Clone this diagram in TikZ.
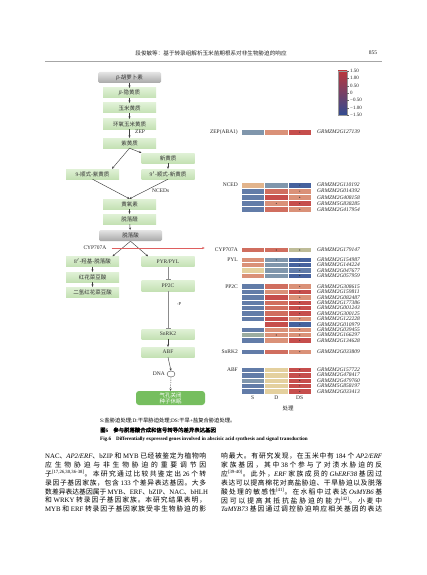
\documentclass[tikz,border=0pt]{standalone}
\usepackage{fontspec}
\setmainfont{Liberation Serif}
\newfontfamily\cjk{Noto Sans CJK SC}
\newfontfamily\cjkbf[FakeBold=1.5]{Noto Sans CJK SC}
\usetikzlibrary{arrows.meta,shapes.geometric}
\def\zsend{\zsend}
\def\zsloop#1{#1\zsnext}
\def\zsnext#1{\ifx#1\zsend\else\hskip 0pt plus 1fil\relax#1\expandafter\zsnext\fi}
\newcommand\zh[1]{{\cjk\zsloop#1\zsend}}
\newcommand\flowfont{\cjk\fontsize{5.5}{6}\selectfont}
\newcommand\labfont{\fontsize{5.5}{6}\selectfont}
\newcommand\bodyfont{\fontsize{6.8}{8}\selectfont}
\newcommand\jl[1]{\hbox to 161pt{\bodyfont #1}}
\definecolor{R1}{RGB}{198,78,76}
\definecolor{R2}{RGB}{208,110,95}
\definecolor{R3}{RGB}{218,145,120}
\definecolor{R4}{RGB}{226,180,140}
\definecolor{Y}{RGB}{228,208,158}
\definecolor{G1}{RGB}{128,150,172}
\definecolor{B1}{RGB}{98,124,168}
\definecolor{B2}{RGB}{70,98,158}
\definecolor{O}{RGB}{190,188,152}
\definecolor{GG}{RGB}{155,172,160}
\definecolor{gtop}{RGB}{224,241,214}
\definecolor{gbot}{RGB}{196,225,180}
\definecolor{ytop}{RGB}{228,228,228}
\definecolor{ybot}{RGB}{168,168,168}
\definecolor{stomc}{RGB}{118,190,95}
\definecolor{cbR}{RGB}{185,55,60}
\definecolor{cbY}{RGB}{236,226,178}
\definecolor{cbB}{RGB}{50,75,145}
\definecolor{redl}{RGB}{222,95,95}
\tikzset{
  gbox/.style={top color=gtop, bottom color=gbot, minimum width=53pt, minimum height=10pt, inner sep=0pt, font=\flowfont, text=black!80},
  graybox/.style={rounded corners=1.5pt, top color=ytop, bottom color=ybot, minimum width=63pt, minimum height=11pt, inner sep=0pt, font=\flowfont, text=black!80},
  stombox/.style={rounded corners=3pt, fill=stomc, minimum width=69pt, minimum height=14pt, inner sep=0pt, font=\flowfont, text=white, align=center},
  arr/.style={-{Stealth[length=2.4pt,width=2.2pt]}, line width=0.45pt, draw=black!75},
  inh/.style={-{Bar[width=5pt,line width=0.6pt]}, line width=0.5pt, draw=black!45},
  redarr/.style={-{Stealth[length=2.6pt,width=2.2pt]}, line width=0.45pt, draw=redl},
  lab/.style={font=\labfont, inner sep=0pt, text=black!85},
  gl/.style={font=\itshape\fontsize{5.5}{6}\selectfont, anchor=west, inner sep=0pt, text=black!85},
  grp/.style={font=\labfont, anchor=east, inner sep=0pt, text=black!85},
  cell/.style={draw=white, line width=0.45pt},
  bl/.style={anchor=west, inner sep=0pt},
}
\begin{document}
\begin{tikzpicture}[x=1pt,y=-1pt]
\useasboundingbox (0,0) rectangle (427,575);
\fill[white] (0,0) rectangle (427,575);
% header
\node[lab] (hdr) at (211,53) {\cjk\fontsize{5.6}{6}\selectfont 段俊敏等：基于转录组解析玉米苗期根系对非生物胁迫的响应};
\node[lab] (pg) at (373,53) {\fontsize{5.6}{6}\selectfont 855};
\draw[black!35, line width=0.8pt] (45,61) -- (382,61);
% flow chart
\node[graybox] (carot) at (129.5,77.5) {{\rmfamily\textit{β}-}胡萝卜素};
\node[gbox] (crypto) at (129.5,93) {{\rmfamily\textit{β}-}隐黄质};
\node[gbox] (zea) at (129.5,108) {玉米黄质};
\node[gbox] (epoxy) at (129.5,124) {环氧玉米黄质};
\node[gbox] (viola) at (129.5,143) {紫黄质};
\node[gbox] (neo) at (168,158) {新黄质};
\node[gbox] (cviola) at (92.5,174) {{\rmfamily 9-}顺式-紫黄质};
\node[gbox] (cneo) at (168,174) {{\rmfamily 9$'$-}顺式-新黄质};
\node[gbox] (xan) at (129.5,204) {黄氧素};
\node[gbox] (ald) at (129.5,219) {脱落醛};
\node[graybox] (aba) at (130.5,235.5) {脱落酸};
\node[gbox] (hyd) at (92.5,261.5) {{\rmfamily 8$'$-}羟基-脱落酸};
\node[gbox] (pa) at (92.5,277) {红花菜豆酸};
\node[gbox] (dpa) at (92.5,292) {二氢红花菜豆酸};
\node[gbox] (pyr) at (168,261.5) {{\rmfamily PYR/PYL}};
\node[gbox, minimum height=11pt] (pp2c) at (168,285.5) {{\rmfamily PP2C}};
\node[gbox] (snrk) at (168,334) {{\rmfamily SnRK2}};
\node[gbox] (abf) at (168,352) {{\rmfamily ABF}};
\node[ellipse, draw=black!70, line width=0.4pt, minimum width=8pt, minimum height=6pt, inner sep=0pt] (dna) at (171,374) {};
\node[lab, anchor=east] (dnal) at (165,374) {DNA};
\node[stombox] (stom) at (170.5,398) {气孔关闭\\种子休眠};
\node[lab, anchor=west] (zep) at (135,132) {ZEP};
\node[lab, anchor=west] (nceds) at (152,191) {NCEDs};
\node[lab] (cypl) at (95,248) {CYP707A};
\node[lab] (dephos) at (179,304) {\fontsize{4.5}{5}\selectfont -P};
\draw[arr] (carot) -- (crypto);
\draw[arr] (crypto) -- (zea);
\draw[arr] (zea) -- (epoxy);
\draw[arr] (epoxy) -- (viola);
\draw[arr] (viola.south) -- ([xshift=19.5pt]cviola.north);
\draw[arr] (viola.south) -- (neo.north west);
\draw[arr] (neo) -- (cneo);
\draw[arr] (cviola.south) -- (xan.north);
\draw[arr] (cneo.south) -- (xan.north);
\draw[arr] (xan) -- (ald);
\draw[arr] (ald) -- (aba);
\draw[arr] (aba.south) -- ([xshift=20pt]hyd.north);
\draw[arr] (aba.south) -- ([xshift=-20pt]pyr.north);
\draw[arr] (hyd) -- (pa);
\draw[arr] (pa) -- (dpa);
\draw[inh] (pyr) -- (pp2c);
\draw[inh] (pp2c) -- (snrk);
\draw[arr] (snrk) -- (abf);
\draw[arr] (abf.south) -- (dna.north);
\draw[arr, dashed, dash pattern=on 1.2pt off 1.2pt] (dna.south) -- (stom.north);
% heatmap
\foreach \nm/\y/\h/\a/\b/\c/\sa/\sb/\sc/\g in {
 zep/129.3/5.7/G1/R3/R1/0/0/1/GRMZM2G127139,
 na/182/6.1/R4/G1/B2/0/0/1/GRMZM2G110192,
 nb/188.1/6.1/B1/R2/R3/0/0/1/GRMZM2G014392,
 nc/194.2/6.1/B1/R1/R3/0/0/1/GRMZM2G408158,
 nd/200.3/6.1/B1/R3/R1/0/1/1/GRMZM5G838285,
 ne/206.4/6.1/B1/R2/R3/0/0/1/GRMZM2G417954,
 cyp/247.3/5.4/R2/R2/O/0/1/1/GRMZM2G179147,
 pa/257.3/5.2/R3/G1/B2/0/1/1/GRMZM2G154987,
 pb/262.5/5.2/R3/G1/B2/0/0/1/GRMZM2G144224,
 pc/267.7/5.2/Y/G1/B1/0/0/1/GRMZM2G047677,
 pd/272.9/5.2/R3/G1/B2/0/0/1/GRMZM2G057959,
 qa/283.7/5.4/B1/R2/R3/0/0/1/GRMZM2G308615,
 qb/289.1/5.4/B1/R3/R1/0/0/1/GRMZM2G159811,
 qc/294.5/5.4/B1/R1/R3/0/0/1/GRMZM2G082487,
 qd/299.9/5.4/B1/R2/R1/0/0/1/GRMZM2G177386,
 qe/305.3/5.4/B1/R2/R1/0/0/1/GRMZM2G001243,
 qf/310.7/5.4/B1/R2/R1/0/0/1/GRMZM2G300125,
 qg/316.1/5.4/B1/R1/R3/0/0/1/GRMZM2G122228,
 qh/321.5/5.4/white/R1/B2/0/0/1/GRMZM2G010979,
 qi/326.9/5.4/B1/R3/R3/0/0/1/GRMZM2G039455,
 qj/332.3/5.4/GG/R3/R3/0/1/1/GRMZM2G166297,
 qk/337.7/5.4/B1/R3/R1/0/0/1/GRMZM2G134628,
 sa/349/5.4/B1/R2/R3/0/0/1/GRMZM2G033809,
 aa/367/5.4/B1/Y/R1/0/0/1/GRMZM2G157722,
 ab/372.4/5.4/B1/Y/R1/0/0/1/GRMZM2G478417,
 ac/377.8/5.4/G1/Y/R1/0/0/1/GRMZM2G479760,
 ad/383.2/5.4/B1/Y/R1/0/0/1/GRMZM5G858197,
 ae/388.6/5.4/B1/Y/R1/0/0/1/GRMZM2G033413}{
  \path[cell, fill=\a] (241,\y) rectangle (264.5,{\y+\h});
  \path[cell, fill=\b] (264.5,\y) rectangle (288,{\y+\h});
  \path[cell, fill=\c] (288,\y) rectangle (311.5,{\y+\h});
  \ifnum\sa=1 \fill[black!80] (252.75,{\y+\h/2}) circle[radius=0.55pt];\fi
  \ifnum\sb=1 \fill[black!80] (276.25,{\y+\h/2}) circle[radius=0.55pt];\fi
  \ifnum\sc=1 \fill[black!80] (299.75,{\y+\h/2}) circle[radius=0.55pt];\fi
  \node[gl] (g\nm) at (317,{\y+\h/2}) {\g};
}
\node[grp] (hzep) at (238,132.1) {ZEP(ABA1)};
\node[grp] (hnced) at (238,185) {NCED};
\node[grp] (hcyp) at (238,250) {CYP707A};
\node[grp] (hpyl) at (238,259.9) {PYL};
\node[grp] (hpp2c) at (238,286.4) {PP2C};
\node[grp] (hsnrk) at (238,351.7) {SnRK2};
\node[grp] (habf) at (238,369.7) {ABF};
\draw[redarr, shorten <=5pt, shorten >=10pt] (cypl.east) -- (cypl.east -| hcyp.west);
\node[lab] (cs) at (252.75,398) {S};
\node[lab] (cd) at (276.25,398) {D};
\node[lab] (cds) at (299.75,398) {DS};
\node[lab] (trt) at (288,408) {\cjk\fontsize{5.5}{6}\selectfont 处理};
% colour bar
\shade[top color=cbR, middle color=cbY, bottom color=cbB] (338,71) rectangle (347,115);
\draw[black!40, line width=0.3pt] (338,71) rectangle (347,115);
\foreach \v [count=\i from 0] in {1.50,1.00,0.50,0,−0.50,−1.00,−1.50}{
  \draw[black!60, line width=0.3pt] (347,{71+\i*44/6}) -- (348.5,{71+\i*44/6});
  \node[lab, anchor=west] (cb\i) at (350,{71+\i*44/6}) {\fontsize{5}{6}\selectfont\v};
}
% captions
\node[bl] (note) at (100,421) {\fontsize{5.3}{6}\selectfont S:{\cjk 盐胁迫处理};D:{\cjk 干旱胁迫处理};DS:{\cjk 干旱}+{\cjk 盐复合胁迫处理。}};
\node[bl] (figzh) at (100,430) {\cjkbf\fontsize{5.4}{6}\selectfont 图{\rmfamily\bfseries 6}\hspace{5pt}参与脱落酸合成和信号转导的差异表达基因};
\node[bl] (figen) at (100,439) {\bfseries\fontsize{5.1}{6}\selectfont Fig.6\hspace{5pt}Differentially expressed genes involved in abscisic acid synthesis and signal transduction};
% body text
\node[bl] (l1) at (45,456) {\jl{NAC\zh{、}\textit{AP2/ERF}\zh{、}bZIP \zh{和} MYB \zh{已经被鉴定为植物响}}};
\node[bl] (l2) at (45,465) {\jl{\zh{应生物胁迫与非生物胁迫的重要调节因}}};
\node[bl] (l3) at (45,474) {\jl{\zh{子}\textsuperscript{[17,26,30,36-38]}\zh{。本研究通过比较共鉴定出} 26 \zh{个转}}};
\node[bl] (l4) at (45,482.5) {\jl{\zh{录因子基因家族，包含} 133 \zh{个差异表达基因。大多}}};
\node[bl] (l5) at (45,491.5) {\jl{\zh{数差异表达基因属于} MYB\zh{、}ERF\zh{、}bZIP\zh{、}NAC\zh{、}bHLH}};
\node[bl] (l6) at (45,500.3) {\jl{\zh{和} WRKY \zh{转录因子基因家族。本研究结果表明，}}};
\node[bl] (l7) at (45,509.3) {\jl{MYB \zh{和} ERF \zh{转录因子基因家族受非生物胁迫的影}}};
\node[bl] (r1) at (221,456) {\jl{\zh{响最大。有研究发现，在玉米中有} 184 \zh{个} \textit{AP2/ERF}}};
\node[bl] (r2) at (221,465) {\jl{\zh{家族基因，其中} 38 \zh{个参与了对渍水胁迫的反}}};
\node[bl] (r3) at (221,474) {\jl{\zh{应}\textsuperscript{[39-40]}\zh{。此外，}\textit{ERF} \zh{家族成员的} \textit{GhERF38} \zh{基因过}}};
\node[bl] (r4) at (221,482.5) {\jl{\zh{表达可以提高棉花对高盐胁迫、干旱胁迫以及脱落}}};
\node[bl] (r5) at (221,491.5) {\jl{\zh{酸处理的敏感性}\textsuperscript{[41]}\zh{。在水稻中过表达} \textit{OsMYB6} \zh{基}}};
\node[bl] (r6) at (221,500.3) {\jl{\zh{因可以提高其抵抗盐胁迫的能力}\textsuperscript{[42]}\zh{。小麦中}}};
\node[bl] (r7) at (221,509.3) {\jl{\textit{TaMYB73} \zh{基因通过调控胁迫响应相关基因的表达}}};
\end{tikzpicture}
\end{document}
